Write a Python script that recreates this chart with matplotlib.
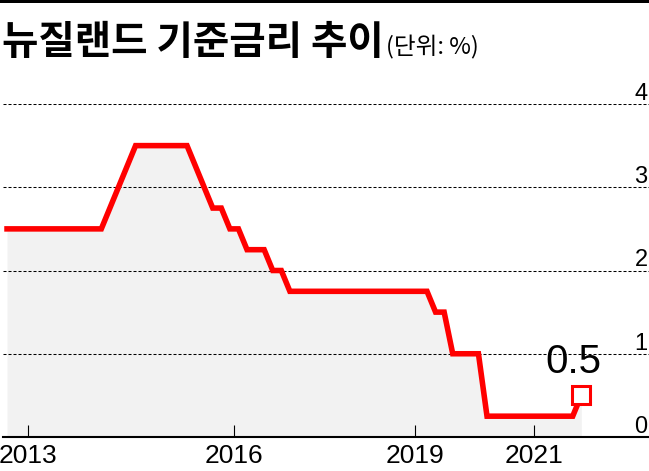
import matplotlib
matplotlib.use('Agg')
import matplotlib.pyplot as plt
import numpy as np
import pandas as pd
from matplotlib.patches import Rectangle

# RBNZ OCR decisions, one point per review
meeting_dates = [
    '2012-09-13', '2012-10-25', '2012-12-06',
    '2013-01-31', '2013-03-14', '2013-04-24', '2013-06-13', '2013-07-25', '2013-09-12', '2013-10-31', '2013-12-12',
    '2014-01-30', '2014-03-13', '2014-04-24', '2014-06-12', '2014-07-24', '2014-09-11', '2014-10-23', '2014-12-11',
    '2015-01-29', '2015-03-12', '2015-04-30', '2015-06-11', '2015-07-23', '2015-09-10', '2015-10-29', '2015-12-10',
    '2016-01-28', '2016-03-10', '2016-04-28', '2016-06-09', '2016-08-11', '2016-09-22', '2016-11-10',
    '2017-02-09', '2017-03-23', '2017-05-11', '2017-06-22', '2017-08-10', '2017-09-28', '2017-11-09',
    '2018-02-08', '2018-03-22', '2018-05-10', '2018-06-28', '2018-08-09', '2018-09-27', '2018-11-08',
    '2019-02-13', '2019-03-27', '2019-05-08', '2019-06-26', '2019-08-07', '2019-09-25', '2019-11-13',
    '2020-02-12', '2020-03-16', '2020-05-13', '2020-06-24', '2020-08-12', '2020-09-23', '2020-11-11',
    '2021-02-24', '2021-04-14', '2021-05-26', '2021-07-14', '2021-08-18', '2021-10-06',
]
ocr_rates = [
    2.5, 2.5, 2.5,
    2.5, 2.5, 2.5, 2.5, 2.5, 2.5, 2.5, 2.5,
    2.5, 2.75, 3.0, 3.25, 3.5, 3.5, 3.5, 3.5,
    3.5, 3.5, 3.5, 3.25, 3.0, 2.75, 2.75, 2.5,
    2.5, 2.25, 2.25, 2.25, 2.0, 2.0, 1.75,
    1.75, 1.75, 1.75, 1.75, 1.75, 1.75, 1.75,
    1.75, 1.75, 1.75, 1.75, 1.75, 1.75, 1.75,
    1.75, 1.75, 1.5, 1.5, 1.0, 1.0, 1.0,
    1.0, 0.25, 0.25, 0.25, 0.25, 0.25, 0.25,
    0.25, 0.25, 0.25, 0.25, 0.25, 0.5,
]
year_ticks = [2013, 2016, 2019, 2021]
y_ticks = [0, 1, 2, 3, 4]

title = '뉴질랜드 기준금리 추이'
unit = '(단위: %)'

sans = ['Liberation Sans', 'DejaVu Sans']
kr = ['Noto Sans CJK KR', 'DejaVu Sans']

dates = pd.to_datetime(meeting_dates)
idx = np.arange(len(ocr_rates))
# year ticks sit at Jan 1, placed between the surrounding reviews
tick_pos = np.interp(pd.to_datetime([f'{y}-01-01' for y in year_ticks]).values.astype('int64'),
                     dates.values.astype('int64'), idx)

fig = plt.figure(figsize=(6.49, 4.71), dpi=100)
W, H = 649, 471
ax = fig.add_axes([3 / W, 34 / H, 646 / W, 333 / H])

ax.fill_between(idx, ocr_rates, 0, color='#f2f2f2', lw=0, zorder=1)
ax.plot(idx, ocr_rates, color='#ff0000', lw=4.0, solid_joinstyle='miter', zorder=3)
ax.plot(idx[-1], ocr_rates[-1], marker='s', ms=12.5, mfc='white', mec='#ff0000', mew=2.2, zorder=4)
ax.annotate(f'{ocr_rates[-1]}', xy=(idx[-1], ocr_rates[-1]), xytext=(-5.5, 16),
            textcoords='offset points', ha='center', va='baseline',
            fontsize=29, family=sans, color='black')

ax.set_xlim(-0.47, 74.9)
ax.set_ylim(0, 4)

ax.set_yticks(y_ticks)
ax.set_yticklabels([])
ax.tick_params(axis='y', length=0)
ax.set_axisbelow('line')
ax.grid(axis='y', color='black', lw=0.75, ls=(0, (2.9, 1.9)))
for v in y_ticks:
    ax.annotate(str(v), xy=(1, v), xycoords=('axes fraction', 'data'), xytext=(-1, 3),
                textcoords='offset points', ha='right', va='baseline',
                fontsize=17, family=sans, color='black')

ax.set_xticks(tick_pos)
ax.set_xticklabels([str(y) for y in year_ticks], fontsize=19, family=sans)
ax.tick_params(axis='x', direction='in', length=8.6, width=0.8, pad=5, colors='black')

for s in ['top', 'left', 'right']:
    ax.spines[s].set_visible(False)
ax.spines['bottom'].set_linewidth(1.5)
ax.spines['bottom'].set_zorder(5)

# heavy rule across the top
fig.add_artist(Rectangle((0, 1 - 3.3 / H), 1, 3.3 / H, transform=fig.transFigure,
                         color='black', lw=0))
fig.text(2 / W, 1 - 42 / H, title, fontsize=28.5, fontweight='black', family=kr,
         ha='left', va='center')
fig.text(386 / W, 1 - 47 / H, unit, fontsize=17, family=kr, ha='left', va='center')

fig.savefig('out.png', dpi=100)
